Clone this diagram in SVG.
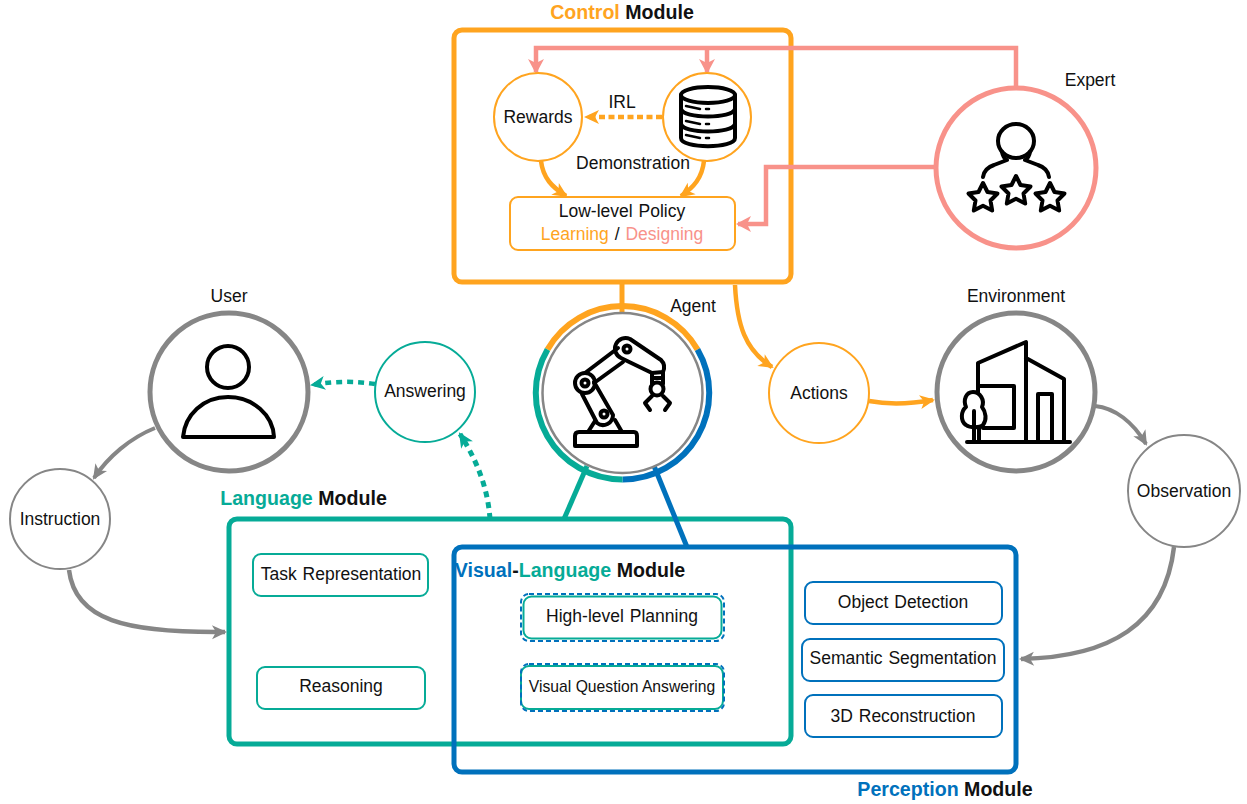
<svg xmlns="http://www.w3.org/2000/svg" width="1247" height="804" viewBox="0 0 1247 804">
<style>
text{font-family:"Liberation Sans",Arial,sans-serif;font-size:17.500px;fill:#111;text-anchor:middle;word-spacing:1px}
.b{font-weight:bold;font-size:19.600px;word-spacing:0}
.or{fill:#FFA41F}.pk{fill:#F8928A}.gr{fill:#06AB97}.bl{fill:#0071BC}
.n{fill:#fff}
.ic{fill:none;stroke:#000;stroke-width:4;stroke-linejoin:round;stroke-linecap:round}
</style>
<defs>
<marker id="ao" markerUnits="userSpaceOnUse" markerWidth="18" markerHeight="18" refX="14" refY="9" orient="auto"><path d="M1,2 L16,9 L1,16 L5,9 Z" fill="#FFA41F"/></marker>
<marker id="ap" markerUnits="userSpaceOnUse" markerWidth="18" markerHeight="18" refX="14" refY="9" orient="auto"><path d="M1,1 L16,9 L1,17 L5,9 Z" fill="#F8928A"/></marker>
<marker id="ag" markerUnits="userSpaceOnUse" markerWidth="18" markerHeight="18" refX="14" refY="9" orient="auto"><path d="M1,2 L16,9 L1,16 L5,9 Z" fill="#06AB97"/></marker>
<marker id="ay" markerUnits="userSpaceOnUse" markerWidth="18" markerHeight="18" refX="14" refY="9" orient="auto"><path d="M1,2 L16,9 L1,16 L5,9 Z" fill="#868686"/></marker>
</defs>

<g id="language-module">
<rect x="229" y="519" width="562" height="225" rx="8" fill="none" stroke="#06AB97" stroke-width="5"/>
<text class="b" x="303.500" y="505"><tspan class="gr">Language</tspan> Module</text>
</g>
<g id="perception-module">
<rect x="454" y="547" width="562" height="225" rx="8" fill="none" stroke="#0071BC" stroke-width="5"/>
<text class="b" x="945" y="796"><tspan class="bl">Perception</tspan> Module</text>
</g>
<g id="control-module">
<rect x="454" y="30" width="337" height="252" rx="8" fill="none" stroke="#FFA41F" stroke-width="5"/>
<text class="b" x="622" y="19"><tspan class="or">Control</tspan> Module</text>
</g>

<g id="connectors">
<path d="M622,282 V312" stroke="#FFA41F" stroke-width="5" fill="none"/>
<path d="M587,466 L564,519" stroke="#06AB97" stroke-width="5" fill="none"/>
<path d="M654,466 L687,547" stroke="#0071BC" stroke-width="5" fill="none"/>
<path d="M1016,88 V48 H536 V72" stroke="#F8928A" stroke-width="4.500" fill="none" marker-end="url(#ap)"/>
<path d="M707,48 V72" stroke="#F8928A" stroke-width="4.500" fill="none" marker-end="url(#ap)"/>
<path d="M936,167 H766 V224 H738" stroke="#F8928A" stroke-width="4.500" fill="none" marker-end="url(#ap)"/>
<path d="M662,117 H586" stroke="#FFA41F" stroke-width="4.500" stroke-dasharray="6 3.500" fill="none" marker-end="url(#ao)"/>
<path d="M541,161 C543,178 552,187 566,196" stroke="#FFA41F" stroke-width="4.500" fill="none" marker-end="url(#ao)"/>
<path d="M704,161 C702,178 694,187 681,196" stroke="#FFA41F" stroke-width="4.500" fill="none" marker-end="url(#ao)"/>
<path d="M735,285 C737,325 745,350 772,367" stroke="#FFA41F" stroke-width="4.500" fill="none" marker-end="url(#ao)"/>
<path d="M869,401 C890,405 910,404 933,400" stroke="#FFA41F" stroke-width="4.500" fill="none" marker-end="url(#ao)"/>
<path d="M1095,406 C1115,408 1133,422 1146,444" stroke="#868686" stroke-width="4" fill="none" marker-end="url(#ay)"/>
<path d="M1174,547 C1165,625 1110,657 1021,659" stroke="#868686" stroke-width="4.500" fill="none" marker-end="url(#ay)"/>
<path d="M155,428 C130,438 108,457 94,478" stroke="#868686" stroke-width="4" fill="none" marker-end="url(#ay)"/>
<path d="M69,570 C75,620 125,633 225,632" stroke="#868686" stroke-width="4.500" fill="none" marker-end="url(#ay)"/>
<path d="M375,384 C355,381 335,381 312,385" stroke="#06AB97" stroke-width="4.500" stroke-dasharray="6 5" fill="none" marker-end="url(#ag)"/>
<path d="M490,519 C488,490 478,462 460,434" stroke="#06AB97" stroke-width="5" stroke-dasharray="6 5" fill="none" marker-end="url(#ag)"/>
</g>

<g id="rewards"><circle class="n" cx="538" cy="117" r="44" stroke="#FFA41F" stroke-width="2"/><text x="538" y="123">Rewards</text></g>
<g id="demonstration">
<circle class="n" cx="707" cy="117" r="44" stroke="#FFA41F" stroke-width="2"/>
<g class="ic">
<ellipse cx="708" cy="95" rx="27" ry="8"/>
<path d="M681,95 V138 C681,149 735,149 735,138 V95"/>
<path d="M681,109 C683,119 733,119 735,109 M681,124 C683,134 733,134 735,124"/>
<path d="M706,109 h3 M706,124 h3 M706,138 h3 M686,106 l14,3 M686,121 l14,3 M686,135 l14,3" stroke-width="2.500"/>
</g>
<text x="633" y="169">Demonstration</text>
</g>
<text x="622" y="108">IRL</text>
<g id="low-level-policy">
<rect x="510" y="197" width="225" height="53" rx="8" class="n" stroke="#FFA41F" stroke-width="2"/>
<text x="622" y="217">Low-level Policy</text>
<text x="622" y="240"><tspan class="or">Learning</tspan> / <tspan class="pk">Designing</tspan></text>
</g>

<g id="expert">
<circle class="n" cx="1016" cy="168" r="80" stroke="#F8928A" stroke-width="5"/>
<text x="1090" y="86">Expert</text>
<g class="ic" stroke-width="3.500">
<ellipse cx="1016" cy="141" rx="18" ry="17"/>
<path d="M983,177 C984,170 988,167 994,165 L1007,160 Q1003,158 1002,152 M1049,177 C1048,170 1044,167 1038,165 L1025,160 Q1029,158 1030,152"/>
<path d="M983,183 l4.500,9 10,1.500 -7,7 1.700,10 -9.200,-4.700 -9.200,4.700 1.700,-10 -7,-7 10,-1.500 Z"/>
<path d="M1016,176 l4.500,9 10,1.500 -7,7 1.700,10 -9.200,-4.700 -9.200,4.700 1.700,-10 -7,-7 10,-1.500 Z"/>
<path d="M1050,183 l4.500,9 10,1.500 -7,7 1.700,10 -9.200,-4.700 -9.200,4.700 1.700,-10 -7,-7 10,-1.500 Z"/>
</g>
</g>

<g id="agent">
<circle class="n" cx="622.500" cy="393" r="80" stroke="#868686" stroke-width="2.500"/>
<text x="693" y="312">Agent</text>
<path d="M547.500,349.500 A86.500,86.500 0 0 1 697.500,349.500" fill="none" stroke="#FFA41F" stroke-width="6"/>
<path d="M697.500,349.500 A86.500,86.500 0 0 1 622.500,479.500" fill="none" stroke="#0071BC" stroke-width="6"/>
<path d="M622.500,479.500 A86.500,86.500 0 0 1 547.500,349.500" fill="none" stroke="#06AB97" stroke-width="6"/>
<g class="ic" stroke-width="3.500">
<path d="M575,446 V436 Q575,432 579,432 H634 Q637,432 637,436 V446 Z"/>
<path d="M588,432 L595,421 M622,432 L615,420"/>
<path d="M582,394 L597,423 A10,10 0 0 0 613,415 L594,382"/>
<circle cx="604" cy="414" r="3.500"/>
<circle cx="585" cy="383" r="10"/><circle cx="585" cy="383" r="3.500"/>
<path d="M585,373 L618,348 M594,383 L623,362"/>
<path d="M630,339 L661,360 Q666,365 663,372 L652,373 L621,358 A10,10 0 0 1 630,339 Z"/>
<circle cx="627" cy="349" r="3.500"/>
<path d="M652,373 V384 M663,372 V384 M652,378 H663"/>
<circle cx="657" cy="389" r="6.500"/>
<path d="M652,396 L645,403 L650,410 M663,396 L670,403 L665,410"/>
</g>
</g>

<g id="user">
<circle class="n" cx="229" cy="392" r="79" stroke="#868686" stroke-width="5"/>
<text x="229" y="302">User</text>
<g class="ic"><circle cx="228" cy="367" r="21"/><path d="M183,437 C185,415 203,397 228,397 C253,397 273,415 274,437 Z"/></g>
</g>
<g id="answering"><circle class="n" cx="425" cy="392" r="50" stroke="#06AB97" stroke-width="2"/><text x="425" y="397">Answering</text></g>
<g id="instruction"><circle class="n" cx="60" cy="519" r="50" stroke="#868686" stroke-width="2"/><text x="60" y="525">Instruction</text></g>
<g id="actions"><circle class="n" cx="819" cy="393" r="50" stroke="#FFA41F" stroke-width="2"/><text x="819" y="399">Actions</text></g>
<g id="environment">
<circle class="n" cx="1016" cy="392" r="79" stroke="#868686" stroke-width="5"/>
<text x="1016" y="302">Environment</text>
<g class="ic">
<path d="M978,400 V363 L1026,342 V442 M1026,358 L1064,379 V442 M978,386 H1014 V428 H983 M1038,442 V394 H1052 V442 M967,442 H1070"/>
<path d="M973,392 C966,392 963,400 966,407 C961,411 960,421 966,425 C970,428 980,428 983,425 C987,420 986,412 982,407 C985,400 980,392 973,392 Z" fill="#fff"/>
<path d="M974,442 V411 M979,442 V428"/>
</g>
</g>
<g id="observation"><circle class="n" cx="1184" cy="491" r="56" stroke="#868686" stroke-width="2"/><text x="1184" y="497">Observation</text></g>

<g id="task-representation"><rect class="n" x="253" y="554" width="175" height="42" rx="8" stroke="#06AB97" stroke-width="2"/><text x="341" y="580">Task Representation</text></g>
<g id="reasoning"><rect class="n" x="257" y="667" width="168" height="42" rx="8" stroke="#06AB97" stroke-width="2"/><text x="341" y="692">Reasoning</text></g>
<text class="b" x="570" y="577"><tspan class="bl">Visual</tspan>-<tspan class="gr">Language</tspan> Module</text>
<g id="high-level-planning">
<rect x="521" y="594" width="203" height="47" rx="8" fill="none" stroke="#0071BC" stroke-width="2" stroke-dasharray="5 3"/>
<rect class="n" x="523.500" y="596.500" width="198" height="42" rx="8" stroke="#06AB97" stroke-width="2"/>
<text x="622" y="622">High-level Planning</text>
</g>
<g id="visual-question-answering">
<rect class="n" x="521" y="666" width="202" height="43" rx="8" stroke="#06AB97" stroke-width="2"/>
<rect x="521" y="664" width="203" height="47" rx="8" fill="none" stroke="#0071BC" stroke-width="2" stroke-dasharray="5 3"/>
<text x="622" y="692" style="font-size:15.700px;word-spacing:0">Visual Question Answering</text>
</g>
<g id="object-detection"><rect class="n" x="805" y="582" width="197" height="42" rx="8" stroke="#0071BC" stroke-width="2"/><text x="903" y="608">Object Detection</text></g>
<g id="semantic-segmentation"><rect class="n" x="802" y="639" width="202" height="42" rx="8" stroke="#0071BC" stroke-width="2"/><text x="903" y="664">Semantic Segmentation</text></g>
<g id="reconstruction"><rect class="n" x="805" y="695" width="197" height="42" rx="8" stroke="#0071BC" stroke-width="2"/><text x="903" y="722">3D Reconstruction</text></g>
</svg>
